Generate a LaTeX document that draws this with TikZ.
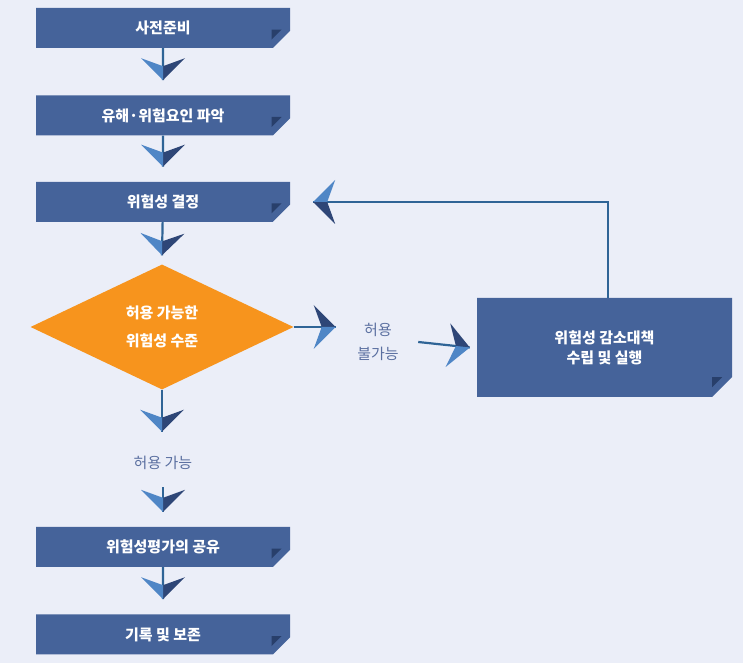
\documentclass[tikz,border=0pt]{standalone}
\usepackage{fontspec}
\newfontfamily\kr{Noto Sans CJK KR}
\usetikzlibrary{positioning,shapes.misc,shapes.geometric,decorations.markings,calc}
\definecolor{bgc}{HTML}{EBEEF8}
\definecolor{boxc}{HTML}{45639A}
\definecolor{foldc}{HTML}{283F6B}
\definecolor{diac}{HTML}{F7941D}
\definecolor{linec}{HTML}{2F6496}
\definecolor{lblc}{HTML}{5A6FA0}
\definecolor{chlight}{HTML}{4F86C6}
\definecolor{chdark}{HTML}{2E4677}
\tikzset{
 box/.style
  = {chamfered rectangle, chamfered rectangle corners=south east,
     chamfered rectangle xsep=10pt, chamfered rectangle ysep=10pt,
     fill=boxc, text=white, font=\kr\bfseries\fontsize{15}{20}\selectfont,
     minimum width=254pt, minimum height=40pt, inner sep=0pt, align=center},
 dia/.style
  = {diamond, fill=diac, text=white, aspect=2.1, inner sep=0pt,
     minimum width=263pt, minimum height=125pt,
     font=\kr\bfseries\fontsize{15}{28}\selectfont, align=center},
 lbl/.style
  = {text=lblc, font=\kr\fontsize{15}{24}\selectfont, align=center},
 conn/.style
  = {draw=linec, line width=2.2pt,
     postaction={decorate, decoration={markings, mark=at position 1 with {\chev}}}}
}
\newcommand{\chev}{%
  \fill[chdark] (0,0) -- (-22,22) -- (-14,0) -- cycle;
  \fill[chlight] (0,0) -- (-22,-22) -- (-14,0) -- cycle;}
\newcommand{\fold}[1]{%
  \fill[foldc] ($(#1.south east)+(-10,0)$) -- ($(#1.south east)+(0,10)$)
    -- ($(#1.south east)+(-10,10)$) -- cycle;}
\begin{document}
\begin{tikzpicture}[x=1pt, y=1pt]
    \useasboundingbox[fill=bgc] (0,0) rectangle (743,663);
    \node [box] (prep) at (163,635) {사전준비};
    \node [box, below = 47pt of prep] (hazard) {유해·위험요인 파악};
    \node [box, below = 46pt of hazard] (decide) {위험성 결정};
    \node [dia] (accept) at (162,336) {허용 가능한\\위험성 수준};
    \node [lbl] (yes) at (163,200) {허용 가능};
    \node [box] (share) at (163,116) {위험성평가의 공유};
    \node [box, below = 47pt of share] (record) {기록 및 보존};
    \node [lbl] (no) at (378,321) {허용\\불가능};
    \node [box, minimum width=255pt, minimum height=99pt] (reduce) at (604.5,315.5)
      {위험성 감소대책\\수립 및 실행};
    \foreach \n in {prep,hazard,decide,share,record,reduce} {\fold{\n}}

    \path [conn] (prep) -- ([yshift=15pt]hazard.north);
    \path [conn] (hazard) -- ([yshift=15pt]decide.north);
    \path [conn] (decide) -- ([yshift=9pt]accept.north);
    \path [conn] (accept.south) -- ([yshift=-42pt]accept.south);
    \path [conn] ([yshift=-14pt]yes.south) -- ([yshift=15pt]share.north);
    \path [conn] (share) -- ([yshift=15pt]record.north);
    \path [conn] (accept.east) -- ([xshift=42pt]accept.east);
    \path [conn] ([xshift=16pt]no.east) -- ([xshift=-7pt]reduce.west);
    \path [conn] ([xshift=3.5pt]reduce.north) |- ([xshift=23pt]decide.east |- 0,461);
\end{tikzpicture}
\end{document}
